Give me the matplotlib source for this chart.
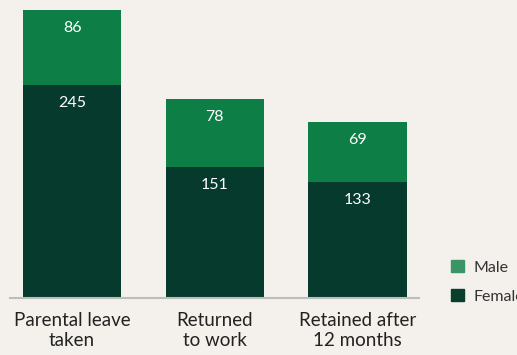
import numpy as np
import matplotlib.pyplot as plt
from matplotlib.patches import Patch

categories = ['Parental leave\ntaken', 'Returned\nto work', 'Retained after\n12 months']
female = [245, 151, 133]
male = [86, 78, 69]

bg = '#f4f1ec'
col_female = '#063a2c'
col_male = '#0d7f46'

plt.rcParams['font.family'] = ['Lato', 'DejaVu Sans']

fig = plt.figure(figsize=(5.17, 3.55), dpi=100, facecolor=bg)
ax = fig.add_axes([10/517, 57/355, 409/517, 288/355])
ax.set_facecolor(bg)

x = np.array([0, 1, 2])
w = 0.69
b1 = ax.bar(x, female, w, color=col_female, label='Female')
b2 = ax.bar(x, male, w, bottom=female, color=col_male, label='Male')

for i in range(len(x)):
    ax.annotate(str(female[i]), (x[i], female[i]), xytext=(0, -13), textcoords='offset points',
                ha='center', va='center', color='white', fontsize=11.5)
    ax.annotate(str(male[i]), (x[i], female[i] + male[i]), xytext=(0, -13), textcoords='offset points',
                ha='center', va='center', color='white', fontsize=11.5)

ax.set_xlim(-0.435, 2.43)
ax.set_ylim(0, 331)
for s in ['top', 'right', 'left']:
    ax.spines[s].set_visible(False)
ax.spines['bottom'].set_color('#bdbdbd')
ax.spines['bottom'].set_linewidth(1.5)
ax.set_yticks([])
ax.set_xticks(x)
ax.set_xticklabels(categories, fontsize=13.5, color='#222222', linespacing=1.25)
ax.tick_params(axis='x', length=0, pad=10)

handles = [Patch(color='#3a9466'), Patch(color='#0a3f2e')]
leg = fig.legend(handles=handles, labels=['Male', 'Female'], loc='center left',
                 bbox_to_anchor=(437/517, 73/355), frameon=False, fontsize=11.5,
                 handlelength=0.8, handleheight=0.8, labelspacing=0.9, handletextpad=0.6)
for t in leg.get_texts():
    t.set_color('#333333')

fig.savefig('out.png', dpi=100, facecolor=bg)
